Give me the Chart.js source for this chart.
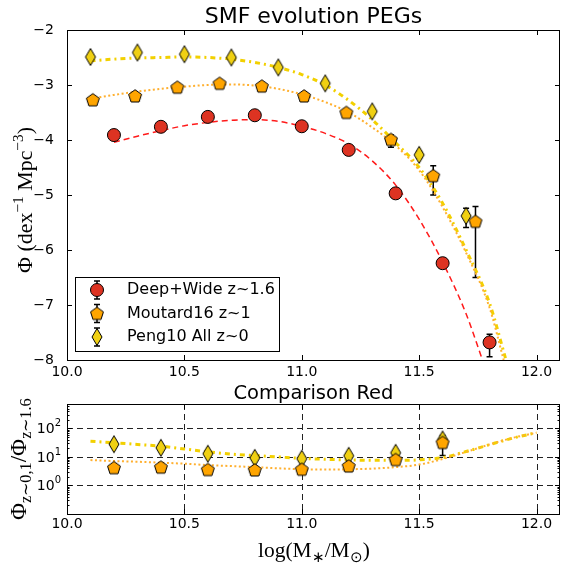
<!DOCTYPE html>
<html>
<head>
<meta charset="utf-8">
<script src="https://cdn.jsdelivr.net/npm/chart.js@4.4.0/dist/chart.umd.min.js"></script>
<style>
  html, body { margin: 0; padding: 0; background: #fff; }
  #wrap { position: relative; width: 561px; height: 563px; }
  #smfChart { position: absolute; left: 0; top: 0; }
  #ratioChart { position: absolute; left: 0; top: 380px; }
</style>
</head>
<body>
<div id="wrap">
  <canvas id="smfChart" width="561" height="380"></canvas>
  <canvas id="ratioChart" width="561" height="183"></canvas>
</div>
<script>
// ---- data ----
// SMF points: log(M*/Msun) and log Phi
const massDeepWide = [10.2, 10.4, 10.6, 10.8, 11.0, 11.2, 11.4, 11.6, 11.8];
const phiDeepWide = [-3.91, -3.76, -3.58, -3.55, -3.75, -4.18, -4.97, -6.24, -7.68];
const errDeepWideLo = [0.03, 0.03, 0.03, 0.04, 0.04, 0.05, 0.06, 0.09, 0.26];
const errDeepWideHi = [0.03, 0.03, 0.03, 0.04, 0.04, 0.05, 0.06, 0.09, 0.15];

const massMoutard = [10.11, 10.29, 10.47, 10.65, 10.83, 11.01, 11.19, 11.38, 11.56, 11.74];
const phiMoutard = [-3.27, -3.2, -3.04, -2.97, -3.02, -3.2, -3.5, -3.99, -4.65, -5.48];
const errMoutardLo = [0.02, 0.02, 0.02, 0.02, 0.02, 0.03, 0.04, 0.14, 0.35, 1.02];
const errMoutardHi = [0.02, 0.02, 0.02, 0.02, 0.02, 0.03, 0.04, 0.08, 0.18, 0.27];

const massPeng = [10.1, 10.3, 10.5, 10.7, 10.9, 11.1, 11.3, 11.5, 11.7];
const phiPeng = [-2.49, -2.41, -2.44, -2.5, -2.68, -2.97, -3.48, -4.27, -5.38];
const errPengLo = [0.01, 0.01, 0.01, 0.01, 0.02, 0.02, 0.03, 0.06, 0.21];
const errPengHi = [0.01, 0.01, 0.01, 0.01, 0.02, 0.02, 0.03, 0.06, 0.14];

// Schechter fits (sampled from the curves)
const massFitDeepWide = [10.2, 10.3, 10.4, 10.5, 10.6, 10.7, 10.8, 10.9, 11.0, 11.1, 11.2, 11.3, 11.4, 11.5, 11.6, 11.7, 11.77];
const phiFitDeepWide = [-4.04, -3.93, -3.83, -3.74, -3.68, -3.64, -3.63, -3.66, -3.75, -3.88, -4.07, -4.38, -4.82, -5.44, -6.22, -7.16, -8.0];
const massFitMoutard = [10.1, 10.2, 10.3, 10.4, 10.5, 10.6, 10.7, 10.8, 10.9, 11.0, 11.1, 11.2, 11.3, 11.4, 11.5, 11.6, 11.7, 11.8, 11.86];
const phiFitMoutard = [-3.25, -3.18, -3.12, -3.07, -3.03, -3.0, -2.99, -3.01, -3.07, -3.17, -3.31, -3.5, -3.77, -4.1, -4.55, -5.22, -6.05, -7.05, -8.0];
const massFitPeng = [10.1, 10.2, 10.3, 10.4, 10.5, 10.6, 10.7, 10.8, 10.9, 11.0, 11.1, 11.2, 11.3, 11.4, 11.5, 11.6, 11.7, 11.8, 11.87];
const phiFitPeng = [-2.56, -2.53, -2.51, -2.5, -2.49, -2.5, -2.53, -2.59, -2.68, -2.81, -3.0, -3.28, -3.63, -4.05, -4.5, -5.15, -6.0, -6.97, -8.0];

// ratio panel
const massRatio = [10.2, 10.4, 10.6, 10.8, 11.0, 11.2, 11.4, 11.6];
const ratioPeng = [28, 21, 13, 9.3, 8.7, 11, 14, 41];
const errRatioPengLo = [2, 1.5, 1, 0.8, 0.8, 1, 1.5, 6];
const errRatioPengHi = [2, 1.5, 1, 0.8, 0.8, 1, 1.5, 6];
const ratioMoutard = [4.2, 4.4, 3.6, 3.5, 3.7, 4.8, 8.1, 32];
const errRatioMoutardLo = [0.3, 0.3, 0.3, 0.3, 0.3, 0.4, 0.8, 20.8];
const errRatioMoutardHi = [0.3, 0.3, 0.3, 0.3, 0.3, 0.4, 0.8, 25];

const massFitRatio = [10.1, 10.2, 10.3, 10.4, 10.5, 10.6, 10.7, 10.8, 10.9, 11.0, 11.1, 11.2, 11.3, 11.4, 11.5, 11.6, 11.7, 11.8, 11.9, 12.0];
const ratioFitPeng = [35.5, 31.6, 27.5, 24, 19, 15.1, 12.6, 11.2, 10, 8.9, 8.3, 7.9, 7.6, 7.6, 7.9, 9.5, 15.5, 27, 46, 71];
const ratioFitMoutard = [7.8, 7.2, 6.8, 6.3, 5.8, 5.2, 4.8, 4.4, 4.0, 3.7, 3.6, 3.7, 3.9, 4.4, 5.4, 8.5, 15, 27.5, 47, 71];

// ticks and labels
const massTicks = [10.0, 10.5, 11.0, 11.5, 12.0];
const massTickLabels = ['10.0', '10.5', '11.0', '11.5', '12.0'];
const phiTicks = [-8, -7, -6, -5, -4, -3, -2];
const ratioTicks = [1, 10, 100];
const ratioTickLabels = ['0', '1', '2'];
const seriesLabels = ['Deep+Wide z~1.6', 'Moutard16 z~1', 'Peng10 All z~0'];

// ---- styling ----
const SANS = 'DejaVu Sans';
const SERIF = 'Liberation Serif';
const RED_FILL = '#dd3322', ORANGE_FILL = '#ffa500', YELLOW_FILL = '#f0d012';
const RED_LINE = '#ff1a1a', ORANGE_LINE = '#ffb030', YELLOW_LINE = '#f2d000';

function makeMarker(kind, fill) {
    const c = document.createElement('canvas');
    c.width = 18; c.height = 20;
    const g = c.getContext('2d');
    g.beginPath();
    if (kind === 'pentagon') {
        const r = 6.8;
        for (let k = 0; k < 5; k++) {
            const a = -Math.PI / 2 + k * 2 * Math.PI / 5;
            g.lineTo(9 + r * Math.cos(a), 10.5 + r * Math.sin(a));
        }
    } else {
        g.moveTo(9, 1.5); g.lineTo(14, 10); g.lineTo(9, 18.5); g.lineTo(4, 10);
    }
    g.closePath();
    g.fillStyle = fill; g.fill();
    g.lineWidth = 1; g.strokeStyle = '#000'; g.stroke();
    return c;
}
const pentagonImg = makeMarker('pentagon', ORANGE_FILL);
const diamondImg = makeMarker('diamond', YELLOW_FILL);

function pts(xs, ys) { return xs.map((x, i) => ({ x: x, y: ys[i] })); }

// text with sub/superscripts: parts = [[text, mode]], mode 1 sup, -1 sub
function drawRich(ctx, parts, cx, cy, width, family, angle) {
    ctx.save();
    ctx.translate(cx, cy);
    ctx.rotate(angle || 0);
    const measure = size => parts.reduce((w, [t, m]) => {
        ctx.font = (m ? size * 0.7 : size) + 'px ' + family;
        return w + ctx.measureText(t).width;
    }, 0);
    const size = 16 * width / measure(16);
    let xx = -width / 2;
    ctx.fillStyle = '#000';
    ctx.textBaseline = 'alphabetic';
    parts.forEach(([t, m]) => {
        ctx.font = (m ? size * 0.7 : size) + 'px ' + family;
        const dy = m === 1 ? -size * 0.4 : (m === -1 ? size * 0.22 : 0);
        ctx.fillText(t, xx, size * 0.33 + dy);
        xx += ctx.measureText(t).width;
    });
    ctx.restore();
}

// error bars drawn under the markers
const errorBars = {
    id: 'errorBars',
    beforeDatasetsDraw(chart) {
        const { ctx, scales: { x, y } } = chart;
        ctx.save();
        ctx.strokeStyle = '#000';
        ctx.lineWidth = 1.5;
        chart.data.datasets.forEach(ds => {
            if (!ds.errLo) return;
            ds.data.forEach((p, i) => {
                const px = x.getPixelForValue(p.x);
                const top = y.getPixelForValue(p.y + ds.errHi[i]);
                const bot = y.getPixelForValue(p.y - ds.errLo[i]);
                ctx.beginPath();
                ctx.moveTo(px, top); ctx.lineTo(px, bot);
                ctx.moveTo(px - 3, top); ctx.lineTo(px + 3, top);
                ctx.moveTo(px - 3, bot); ctx.lineTo(px + 3, bot);
                ctx.stroke();
            });
        });
        ctx.restore();
    }
};

// matplotlib-like frame, inward ticks, dashed grid and x tick labels
const frameTicks = {
    id: 'frameTicks',
    beforeDatasetsDraw(chart, args, opts) {
        if (!opts.grid) return;
        const { ctx, chartArea: a, scales: { x, y } } = chart;
        ctx.save();
        ctx.strokeStyle = '#222';
        ctx.lineWidth = 1;
        ctx.setLineDash([6, 4]);
        opts.xMajor.forEach(v => {
            const px = Math.round(x.getPixelForValue(v)) + 0.5;
            if (px <= a.left + 1 || px >= a.right - 1) return;
            ctx.beginPath(); ctx.moveTo(px, a.top); ctx.lineTo(px, a.bottom); ctx.stroke();
        });
        opts.yMajor.forEach(v => {
            const py = Math.round(y.getPixelForValue(v)) + 0.5;
            ctx.beginPath(); ctx.moveTo(a.left, py); ctx.lineTo(a.right, py); ctx.stroke();
        });
        ctx.restore();
    },
    afterDatasetsDraw(chart, args, opts) {
        const { ctx, chartArea: a, scales: { x, y } } = chart;
        ctx.save();
        ctx.strokeStyle = '#000';
        ctx.lineWidth = 1;
        const tick = (vals, len, isX) => vals.forEach(v => {
            if (isX) {
                const px = Math.round(x.getPixelForValue(v)) + 0.5;
                ctx.beginPath();
                ctx.moveTo(px, a.bottom); ctx.lineTo(px, a.bottom - len);
                ctx.moveTo(px, a.top); ctx.lineTo(px, a.top + len);
                ctx.stroke();
            } else {
                const py = Math.round(y.getPixelForValue(v)) + 0.5;
                if (py < a.top || py > a.bottom) return;
                ctx.beginPath();
                ctx.moveTo(a.left, py); ctx.lineTo(a.left + len, py);
                ctx.moveTo(a.right, py); ctx.lineTo(a.right - len, py);
                ctx.stroke();
            }
        });
        tick(opts.xMajor, 5, true);
        tick(opts.yMajor, 5, false);
        if (opts.yMinor) tick(opts.yMinor, 2.5, false);
        ctx.strokeRect(Math.round(a.left) + 0.5, Math.round(a.top) + 0.5,
            Math.round(a.right - a.left) - 1, Math.round(a.bottom - a.top));
        // x tick labels
        ctx.fillStyle = '#000';
        ctx.font = '14px ' + SANS;
        ctx.textAlign = 'center';
        ctx.textBaseline = 'middle';
        opts.xMajor.forEach((v, i) => ctx.fillText(massTickLabels[i], x.getPixelForValue(v), a.bottom + opts.xLabelGap));
        ctx.restore();
    }
};

// titles, axis labels and legend
const decorations = {
    id: 'decorations',
    afterDraw(chart, args, opts) {
        const { ctx, chartArea: a } = chart;
        ctx.save();
        ctx.fillStyle = '#000';
        ctx.textAlign = 'center';
        ctx.textBaseline = 'middle';
        ctx.font = opts.titleSize + 'px ' + SANS;
        ctx.fillText(opts.title, (a.left + a.right) / 2, opts.titleY);
        ctx.restore();
        opts.labels.forEach(l => drawRich(ctx, l.parts, l.x, l.y, l.width, SERIF, l.angle));
        if (opts.legend) {
            ctx.save();
            ctx.fillStyle = '#fff';
            ctx.strokeStyle = '#000';
            ctx.lineWidth = 1;
            ctx.fillRect(75.5, 277.5, 204, 74);
            ctx.strokeRect(75.5, 277.5, 204, 74);
            const rows = [290, 313.5, 337];
            rows.forEach((ry, i) => {
                ctx.strokeStyle = '#000';
                ctx.lineWidth = 1.5;
                ctx.beginPath();
                ctx.moveTo(97, ry - 9); ctx.lineTo(97, ry + 9);
                ctx.moveTo(94, ry - 9); ctx.lineTo(100, ry - 9);
                ctx.moveTo(94, ry + 9); ctx.lineTo(100, ry + 9);
                ctx.stroke();
                if (i === 0) {
                    ctx.beginPath();
                    ctx.arc(97, ry, 6.5, 0, Math.PI * 2);
                    ctx.fillStyle = RED_FILL; ctx.fill();
                    ctx.lineWidth = 1; ctx.stroke();
                } else {
                    ctx.drawImage(i === 1 ? pentagonImg : diamondImg, 97 - 9, ry - 10);
                }
                ctx.fillStyle = '#000';
                ctx.font = '16px ' + SANS;
                ctx.textAlign = 'left';
                ctx.textBaseline = 'middle';
                ctx.fillText(seriesLabels[i], 127, ry);
            });
            ctx.restore();
        }
        if (opts.logTickLabels) {
            const y = chart.scales.y;
            ctx.save();
            ctx.fillStyle = '#000';
            ctx.textBaseline = 'middle';
            ratioTicks.forEach((v, i) => {
                const py = y.getPixelForValue(v);
                ctx.font = '10px ' + SANS;
                const sw = ctx.measureText(ratioTickLabels[i]).width;
                ctx.textAlign = 'right';
                ctx.fillText(ratioTickLabels[i], 61, py - 5);
                ctx.font = '14px ' + SANS;
                ctx.fillText('10', 61 - sw, py + 1);
            });
            ctx.restore();
        }
    }
};

const tickFont = { family: SANS, size: 14 };
const minusLabel = v => (v < 0 ? '\u2212' : '') + Math.abs(v);
const fixX = h => s => { s.height = h; };
const fixY = s => { s.width = 67; };

// ---- top panel: SMF ----
new Chart(document.getElementById('smfChart'), {
    type: 'scatter',
    data: {
        datasets: [
            { label: seriesLabels[0], data: pts(massDeepWide, phiDeepWide), errLo: errDeepWideLo, errHi: errDeepWideHi,
              pointStyle: 'circle', pointRadius: 6.5, backgroundColor: RED_FILL, borderColor: '#000', borderWidth: 1, order: 1 },
            { label: seriesLabels[1], data: pts(massMoutard, phiMoutard), errLo: errMoutardLo, errHi: errMoutardHi,
              pointStyle: pentagonImg, pointRadius: 7, order: 2 },
            { label: seriesLabels[2], data: pts(massPeng, phiPeng), errLo: errPengLo, errHi: errPengHi,
              pointStyle: diamondImg, pointRadius: 7, order: 3 },
            { data: pts(massFitDeepWide, phiFitDeepWide), showLine: true, pointRadius: 0, borderColor: RED_LINE,
              borderWidth: 1.5, borderDash: [6, 4], cubicInterpolationMode: 'monotone', order: 5 },
            { data: pts(massFitMoutard, phiFitMoutard), showLine: true, pointRadius: 0, borderColor: ORANGE_LINE,
              borderWidth: 2, borderDash: [2, 2.5], cubicInterpolationMode: 'monotone', order: 5 },
            { data: pts(massFitPeng, phiFitPeng), showLine: true, pointRadius: 0, borderColor: YELLOW_LINE,
              borderWidth: 3, borderDash: [5, 4, 2, 4], cubicInterpolationMode: 'monotone', order: 6 }
        ]
    },
    options: {
        responsive: false,
        animation: false,
        events: [],
        layout: { autoPadding: false, padding: { top: 30, right: 1, left: 0, bottom: 0 } },
        plugins: {
            legend: { display: false },
            tooltip: { enabled: false },
            frameTicks: { xMajor: massTicks, yMajor: phiTicks, xLabelGap: 12 },
            decorations: {
                title: 'SMF evolution PEGs', titleSize: 22, titleY: 17, legend: true,
                labels: [{ parts: [['\u03a6 (dex', 0], ['\u22121', 1], [' Mpc', 0], ['\u22123', 1], [')', 0]],
                           x: 25, y: 200, width: 146, angle: -Math.PI / 2 }]
            }
        },
        scales: {
            x: {
                type: 'linear', min: 10, max: 12.1,
                grid: { display: false }, border: { display: false },
                afterBuildTicks: s => { s.ticks = massTicks.map(v => ({ value: v })); },
                afterFit: fixX(20),
                ticks: { display: false }
            },
            y: {
                min: -8, max: -2,
                grid: { display: false }, border: { display: false },
                afterBuildTicks: s => { s.ticks = phiTicks.map(v => ({ value: v })); },
                afterFit: fixY,
                ticks: { padding: 5, font: tickFont, color: '#000', autoSkip: false, callback: minusLabel }
            }
        }
    },
    plugins: [errorBars, frameTicks, decorations]
});

// ---- bottom panel: ratio ----
const ratioMinor = [];
[0.1, 1, 10, 100].forEach(d => { for (let k = 2; k <= 9; k++) ratioMinor.push(k * d); });

new Chart(document.getElementById('ratioChart'), {
    type: 'scatter',
    data: {
        datasets: [
            { data: pts(massRatio, ratioMoutard), errLo: errRatioMoutardLo, errHi: errRatioMoutardHi,
              pointStyle: pentagonImg, pointRadius: 7, order: 2 },
            { data: pts(massRatio, ratioPeng), errLo: errRatioPengLo, errHi: errRatioPengHi,
              pointStyle: diamondImg, pointRadius: 7, order: 3 },
            { data: pts(massFitRatio, ratioFitMoutard), showLine: true, pointRadius: 0, borderColor: ORANGE_LINE,
              borderWidth: 2, borderDash: [2, 2.5], cubicInterpolationMode: 'monotone', order: 5 },
            { data: pts(massFitRatio, ratioFitPeng), showLine: true, pointRadius: 0, borderColor: YELLOW_LINE,
              borderWidth: 3, borderDash: [5, 4, 2, 4], cubicInterpolationMode: 'monotone', order: 6 }
        ]
    },
    options: {
        responsive: false,
        animation: false,
        events: [],
        layout: { autoPadding: false, padding: { top: 24, right: 1, left: 0, bottom: 0 } },
        plugins: {
            legend: { display: false },
            tooltip: { enabled: false },
            frameTicks: { grid: true, xMajor: massTicks, yMajor: ratioTicks, yMinor: ratioMinor, xLabelGap: 10 },
            decorations: {
                title: 'Comparison Red', titleSize: 19.5, titleY: 14, legend: false, logTickLabels: true,
                labels: [
                    { parts: [['\u03a6', 0], ['z\u223c0,1', -1], ['/\u03a6', 0], ['z\u223c1.6', -1]],
                      x: 18, y: 79, width: 122, angle: -Math.PI / 2 },
                    { parts: [['log(M', 0], ['\u2217', -1], ['/M', 0], ['\u2299', -1], [')', 0]],
                      x: 313, y: 170, width: 110, angle: 0 }
                ]
            }
        },
        scales: {
            x: {
                type: 'linear', min: 10, max: 12.1,
                grid: { display: false }, border: { display: false },
                afterBuildTicks: s => { s.ticks = massTicks.map(v => ({ value: v })); },
                afterFit: fixX(49),
                ticks: { display: false }
            },
            y: {
                type: 'logarithmic', min: 0.1, max: 720,
                grid: { display: false }, border: { display: false },
                afterBuildTicks: s => { s.ticks = ratioTicks.map(v => ({ value: v })); },
                afterFit: fixY,
                ticks: { display: false }
            }
        }
    },
    plugins: [errorBars, frameTicks, decorations]
});
</script>
</body>
</html>
